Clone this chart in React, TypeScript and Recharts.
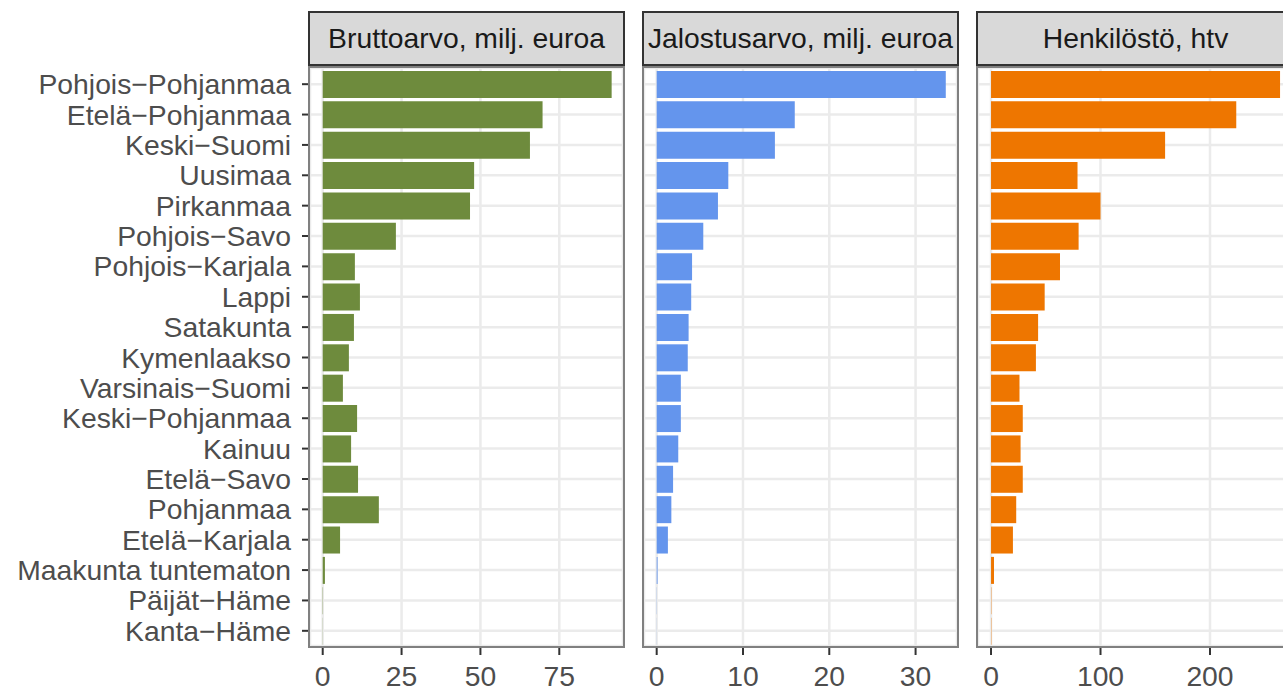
import React from 'react'
import { BarChart, Bar, XAxis, YAxis, CartesianGrid } from 'recharts'

// ── Data ────────────────────────────────────────────────────────
const regions = [
  'Pohjois−Pohjanmaa', 'Etelä−Pohjanmaa', 'Keski−Suomi', 'Uusimaa', 'Pirkanmaa',
  'Pohjois−Savo', 'Pohjois−Karjala', 'Lappi', 'Satakunta', 'Kymenlaakso',
  'Varsinais−Suomi', 'Keski−Pohjanmaa', 'Kainuu', 'Etelä−Savo', 'Pohjanmaa',
  'Etelä−Karjala', 'Maakunta tuntematon', 'Päijät−Häme', 'Kanta−Häme',
]
const bruttoarvo = [91.6, 69.7, 65.7, 48.0, 46.7, 23.2, 10.2, 11.8, 9.9, 8.3, 6.4, 10.9, 9.0, 11.2, 17.8, 5.5, 0.7, 0.1, 0.05]
const jalostusarvo = [33.5, 16.0, 13.7, 8.3, 7.1, 5.4, 4.1, 4.0, 3.7, 3.6, 2.8, 2.8, 2.5, 1.9, 1.7, 1.3, 0.1, 0.02, 0.01]
const henkilosto = [264, 224, 159, 79, 100, 80, 63, 49, 43, 41, 26, 29, 27, 29, 23, 20, 2.7, 0.3, 0.3]

const FONT = '"Liberation Sans", Arial, Helvetica, sans-serif'
const FS = 28.3
const CHART_H = 687
const PLOT_TOP = 68
const AXIS_H = 41
const PLOT_W = 313
const Y_LABEL_W = 310

const panels = [
  { title: 'Bruttoarvo, milj. euroa', values: bruttoarvo, color: '#6E8B3D', domain: [-4.03, 95.2], ticks: [0, 25, 50, 75], plotLeft: 310, stripW: 317 },
  { title: 'Jalostusarvo, milj. euroa', values: jalostusarvo, color: '#6495ED', domain: [-1.47, 34.8], ticks: [0, 10, 20, 30], plotLeft: 644, stripW: 317 },
  { title: 'Henkilöstö, htv', values: henkilosto, color: '#EE7600', domain: [-11.9, 274], ticks: [0, 100, 200], plotLeft: 978, stripW: 319 },
]

const tickStyle = { fontSize: FS, fill: '#4d4d4d', fontFamily: FONT }

export default function App() {
  return (
    <div style={{ position: 'fixed', left: 0, top: 0, width: 1283, height: 687, overflow: 'hidden', background: '#fff', fontFamily: FONT }}>
      {panels.map((p, idx) => {
        const data = regions.map((r, i) => ({ region: r, value: p.values[i] }))
        const first = idx === 0
        const chartLeft = first ? 0 : p.plotLeft
        const chartW = first ? Y_LABEL_W + PLOT_W : PLOT_W
        return (
          <React.Fragment key={p.title}>
            <div style={{ position: 'absolute', left: chartLeft, top: 0 }}>
              <BarChart
                width={chartW}
                height={CHART_H}
                data={data}
                layout="vertical"
                margin={{ top: PLOT_TOP, right: 0, bottom: 0, left: 0 }}
              >
                <CartesianGrid stroke="#ebebeb" strokeWidth={2.5} />
                <XAxis
                  type="number"
                  dataKey="value"
                  domain={p.domain}
                  ticks={p.ticks}
                  allowDataOverflow
                  height={AXIS_H}
                  axisLine={false}
                  tickSize={9}
                  tickMargin={11}
                  tickLine={{ stroke: '#333333', strokeWidth: 2 }}
                  tick={tickStyle}
                  interval={0}
                />
                <YAxis
                  type="category"
                  dataKey="region"
                  hide={!first}
                  width={first ? Y_LABEL_W : 0}
                  padding={{ top: 1, bottom: 0 }}
                  axisLine={false}
                  tickSize={8}
                  tickMargin={11}
                  tickLine={{ stroke: '#333333', strokeWidth: 2 }}
                  tick={tickStyle}
                  interval={0}
                />
                <Bar dataKey="value" fill={p.color} barSize={27} isAnimationActive={false} />
              </BarChart>
            </div>
            {/* panel border */}
            <div style={{ position: 'absolute', left: p.plotLeft - 2, top: 66, width: PLOT_W + 4, height: 582, border: '2px solid #808080', boxSizing: 'border-box', pointerEvents: 'none' }} />
            {/* facet strip */}
            <div style={{
              position: 'absolute', left: p.plotLeft - 2, top: 11, width: p.stripW, height: 55,
              background: '#d9d9d9', border: '2px solid #333333', boxSizing: 'border-box',
              display: 'flex', alignItems: 'center', justifyContent: 'center',
              fontSize: FS, color: '#1a1a1a', whiteSpace: 'nowrap',
            }}>
              {p.title}
            </div>
          </React.Fragment>
        )
      })}
    </div>
  )
}
